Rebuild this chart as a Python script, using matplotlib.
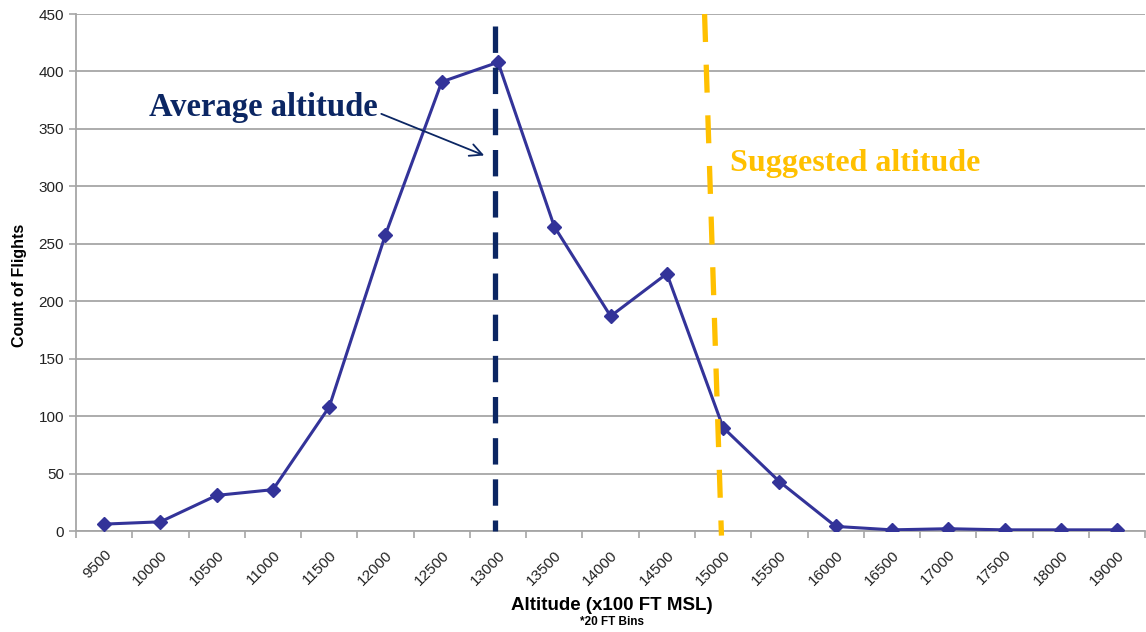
import matplotlib.pyplot as plt
import numpy as np

# altitude bins (x100 ft MSL) and flight counts
altitudes = ['9500', '10000', '10500', '11000', '11500', '12000', '12500', '13000',
             '13500', '14000', '14500', '15000', '15500', '16000', '16500', '17000',
             '17500', '18000', '19000']
counts = [6, 8, 31, 36, 108, 258, 391, 408, 265, 187, 224, 90, 43, 4, 1, 2, 1, 1, 1]

avg_x = 6.95          # average altitude marker (category units)
sugg_x = (10.67, 10.97)  # suggested altitude marker, top -> bottom

fig = plt.figure(figsize=(11.46, 6.32), dpi=100)
ax = fig.add_axes([0.0663, 0.1598, 0.9330, 0.8180])

x = np.arange(len(altitudes))
ax.plot(x, counts, color='#333399', lw=2.2, marker='D', ms=7, zorder=3)

ax.set_xlim(-0.5, len(altitudes) - 0.5)
ax.set_ylim(0, 450)
ax.set_yticks(np.arange(0, 451, 50))
ax.grid(axis='y', color='#a6a6a6', lw=1.3)
ax.set_axisbelow(True)

ax.set_xticks(x)
ax.set_xticklabels(altitudes, rotation=45, ha='right', rotation_mode='anchor',
                   fontsize=11, family='Liberation Sans', color='#222222')
ax.set_xticks(np.arange(-0.5, len(altitudes)), minor=True)
ax.tick_params(axis='x', which='major', length=0, pad=12)
ax.tick_params(axis='x', which='minor', length=5, color='#a6a6a6', width=1.2)
ax.tick_params(axis='y', length=5, color='#a6a6a6', width=1.2, labelsize=11,
               labelcolor='#222222')
for lab in ax.get_yticklabels():
    lab.set_family('Liberation Sans')

for s in ['top', 'right']:
    ax.spines[s].set_visible(False)
for s in ['left', 'bottom']:
    ax.spines[s].set_color('#a6a6a6')
    ax.spines[s].set_linewidth(1.3)

# reference lines
ax.plot([avg_x, avg_x], [440, 0], color='#0b2663', lw=3.8,
        linestyle=(0, (5.0, 2.8)), zorder=4, clip_on=False)
ax.plot([sugg_x[0], sugg_x[1]], [450, -4], color='#ffc000', lw=3.8,
        linestyle=(0, (5.3, 4.3)), zorder=4, clip_on=False)

ax.text(0.8, 369, 'Average altitude', color='#0b2663', fontsize=23.5,
        fontweight='bold', family='Liberation Serif', va='center')
ax.annotate('', xy=(6.8, 326), xytext=(4.88, 364),
            arrowprops=dict(arrowstyle='->', color='#0b2663', lw=1.3,
                            mutation_scale=22))
ax.text(11.12, 320, 'Suggested altitude', color='#ffc000', fontsize=23,
        fontweight='bold', family='Liberation Serif', va='center')

ax.set_ylabel('Count of Flights', fontsize=11.5, fontweight='bold',
              family='Liberation Sans')
ax.yaxis.set_label_coords(-0.046, 0.476)
fig.text(0.534, 0.042, 'Altitude (x100 FT MSL)', ha='center', va='center',
         fontsize=13.5, fontweight='bold', family='Liberation Sans')
fig.text(0.534, 0.016, '*20 FT Bins', ha='center', va='center',
         fontsize=8.5, fontweight='bold', family='Liberation Sans')

fig.savefig('out.png', dpi=100)
